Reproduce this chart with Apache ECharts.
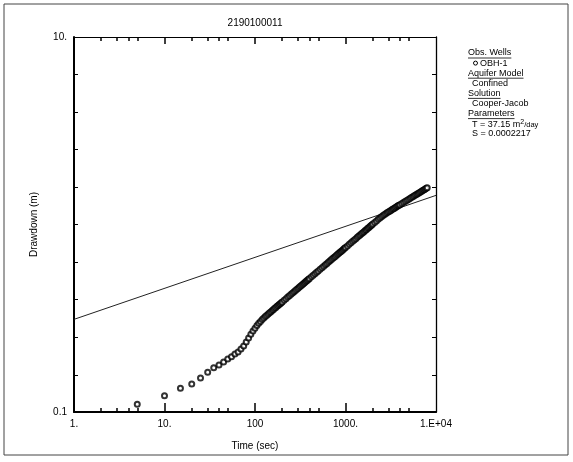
<!DOCTYPE html>
<html>
<head>
<meta charset="utf-8">
<script src="https://cdn.jsdelivr.net/npm/echarts@6/dist/echarts.min.js"></script>
<style>
  html, body { margin: 0; padding: 0; background: #fff; }
  #chart { width: 573px; height: 462px; }
</style>
</head>
<body>
<div id="chart"></div>
<script>
// observed data, well OBH-1 (time in s, drawdown in m)
const timeSec = [5, 10, 15, 20, 25, 30, 35, 40, 45, 50, 55, 60, 65, 70, 75, 80, 85, 90, 95, 100,
  105, 110, 115, 120, 125, 130, 135, 140, 145, 150, 155, 160, 165, 170, 175, 180, 185, 190, 195, 200,
  210, 220, 230, 240, 250, 260, 270, 280, 290, 300, 310, 320, 330, 340, 350, 360, 370, 380, 390, 400,
  420, 440, 460, 480, 500, 525, 550, 575, 600, 625, 650, 675, 700, 725, 750, 775, 800, 825, 850, 875,
  900, 925, 950, 975, 1000, 1050, 1100, 1150, 1200, 1250, 1300, 1350, 1400, 1450, 1500, 1550, 1600, 1650, 1700, 1750,
  1800, 1850, 1900, 1950, 2000, 2100, 2200, 2300, 2400, 2500, 2600, 2700, 2800, 2900, 3000, 3100, 3200, 3300, 3400, 3500,
  3600, 3700, 3800, 3900, 4000, 4200, 4400, 4600, 4800, 5000, 5200, 5400, 5600, 5800, 6000, 6200, 6400, 6600, 6800, 7000,
  7200, 7400, 7600, 7800, 8000];
const drawdown = [0.110, 0.122, 0.134, 0.141, 0.152, 0.163, 0.172, 0.178, 0.185, 0.192, 0.197, 0.204, 0.209, 0.217, 0.225, 0.236, 0.248, 0.260, 0.270, 0.280,
  0.289, 0.297, 0.304, 0.311, 0.317, 0.323, 0.328, 0.333, 0.338, 0.343, 0.348, 0.352, 0.357, 0.361, 0.366, 0.370, 0.374, 0.378, 0.382, 0.386,
  0.394, 0.402, 0.410, 0.417, 0.424, 0.431, 0.438, 0.444, 0.451, 0.457, 0.464, 0.470, 0.476, 0.482, 0.488, 0.493, 0.499, 0.505, 0.510, 0.515,
  0.526, 0.536, 0.546, 0.556, 0.565, 0.577, 0.588, 0.599, 0.610, 0.620, 0.630, 0.640, 0.650, 0.660, 0.669, 0.678, 0.687, 0.696, 0.705, 0.713,
  0.721, 0.730, 0.738, 0.746, 0.754, 0.769, 0.784, 0.799, 0.813, 0.827, 0.840, 0.854, 0.867, 0.879, 0.892, 0.904, 0.916, 0.928, 0.939, 0.951,
  0.962, 0.973, 0.984, 0.994, 1.005, 1.025, 1.045, 1.065, 1.084, 1.101, 1.118, 1.132, 1.146, 1.159, 1.171, 1.182, 1.193, 1.205, 1.215, 1.226,
  1.236, 1.247, 1.257, 1.266, 1.276, 1.295, 1.313, 1.331, 1.348, 1.364, 1.380, 1.396, 1.411, 1.426, 1.441, 1.455, 1.469, 1.483, 1.496, 1.509,
  1.522, 1.534, 1.547, 1.559, 1.571];

// Cooper-Jacob straight line
const fitTime = [1, 10000];
const fitDrawdown = [0.312, 1.43];

// ticks and labels
const xLabelValues = [1, 10, 100, 1000, 10000];
const xLabelTexts = ["1.", "10.", "100", "1000.", "1.E+04"];
const xMajorTicks = [10, 100, 1000];
const xMinorTicks = [2, 3, 4, 5, 20, 30, 40, 50, 200, 300, 400, 500, 2000, 3000, 4000, 5000];
const yLabelValues = [0.1, 10];
const yLabelTexts = ["0.1", "10."];
const yTicks = [0.158, 0.251, 0.398, 0.631, 1, 1.585, 2.512, 3.981, 6.31];

const legendLines = [
  { text: "Obs. Wells", head: true },
  { text: "OBH-1", marker: true },
  { text: "Aquifer Model", head: true },
  { text: "Confined" },
  { text: "Solution", head: true },
  { text: "Cooper-Jacob" },
  { text: "Parameters", head: true },
  { text: "{a|T = 37.15 m}{sup|2}{b|/day}", rich: true },
  { text: "S = 0.0002217" }
];

const FONT = "Liberation Sans, Arial, sans-serif";
const chart = echarts.init(document.getElementById("chart"));

function fmt(values, texts) {
  return v => {
    for (let i = 0; i < values.length; i++) {
      if (Math.abs(v - values[i]) / values[i] < 1e-6) return texts[i];
    }
    return "";
  };
}

function xAx(pos, ticks, len, showLine, labels) {
  return {
    type: "log", logBase: 10, min: 1, max: 10000, position: pos,
    axisLine: { show: showLine, onZero: false, lineStyle: { color: "#000", width: pos === "bottom" ? 2 : 1 } },
    axisTick: { show: true, inside: true, length: len, customValues: ticks, lineStyle: { color: "#000", width: 1.5 } },
    axisLabel: labels ? {
      show: true, customValues: xLabelValues, formatter: fmt(xLabelValues, xLabelTexts),
      color: "#000", fontSize: 10, fontFamily: FONT, margin: 7
    } : { show: false },
    splitLine: { show: false },
    minorTick: { show: false },
    name: labels ? "Time (sec)" : "",
    nameLocation: "middle", nameGap: 29,
    nameTextStyle: { color: "#000", fontSize: 10, fontFamily: FONT }
  };
}

function yAx(pos, labels) {
  return {
    type: "log", logBase: 10, min: 0.1, max: 10, position: pos,
    axisLine: { show: true, onZero: false, lineStyle: { color: "#000", width: pos === "left" ? 2 : 1.3 } },
    axisTick: { show: true, inside: true, length: 4, customValues: yTicks, lineStyle: { color: "#000", width: 1 } },
    axisLabel: labels ? {
      show: true, customValues: yLabelValues, formatter: fmt(yLabelValues, yLabelTexts),
      color: "#000", fontSize: 10, fontFamily: FONT, margin: 7
    } : { show: false },
    splitLine: { show: false },
    name: labels ? "Drawdown (m)" : "",
    nameLocation: "middle", nameGap: 35, nameRotate: 90,
    nameTextStyle: { color: "#000", fontSize: 10, fontFamily: FONT }
  };
}

// legend block at the right, drawn as graphic text
const LEG_FS = 9;
const measure = document.createElement("canvas").getContext("2d");
measure.font = LEG_FS + "px Liberation Sans, Arial";
const legendX = 468, legendY0 = 53, legendStep = 10.1;
const legendGraphics = [];
legendLines.forEach((l, i) => {
  const y = legendY0 + i * legendStep;
  const x = l.head ? legendX : legendX + 4;
  if (l.marker) {
    legendGraphics.push({ type: "circle", shape: { cx: x + 3.5, cy: y, r: 2 }, style: { fill: "#fff", stroke: "#000", lineWidth: 1 } });
  }
  legendGraphics.push({
    type: "text", x: l.marker ? x + 8 : x, y: y,
    style: l.rich ? {
      text: l.text, fill: "#000", font: LEG_FS + "px " + FONT, verticalAlign: "middle",
      rich: {
        a: { fontSize: LEG_FS, fontFamily: FONT, verticalAlign: "bottom", lineHeight: 11 },
        sup: { fontSize: 7, fontFamily: FONT, verticalAlign: "top", lineHeight: 11 },
        b: { fontSize: 7.5, fontFamily: FONT, verticalAlign: "bottom", lineHeight: 11 }
      }
    } : { text: l.text, fill: "#000", font: LEG_FS + "px " + FONT, verticalAlign: "middle" }
  });
  if (l.head) {
    const w = measure.measureText(l.text).width;
    legendGraphics.push({ type: "line", shape: { x1: x, y1: y + 5, x2: x + w, y2: y + 5 }, style: { stroke: "#000", lineWidth: 0.8 } });
  }
});

const option = {
  animation: false,
  backgroundColor: "#fff",
  grid: { left: 74, right: 137, top: 37, bottom: 50, containLabel: false },
  xAxis: [
    xAx("bottom", xMajorTicks, 9, true, true),
    xAx("bottom", xMinorTicks, 4, false, false),
    xAx("top", xMajorTicks, 7, true, false),
    xAx("top", xMinorTicks, 4, false, false)
  ],
  yAxis: [yAx("left", true), yAx("right", false)],
  graphic: [
    { type: "rect", shape: { x: 4, y: 4, width: 564, height: 451 }, style: { fill: "none", stroke: "#444", lineWidth: 1 } },
    { type: "text", x: 255, y: 23, style: { text: "2190100011", fill: "#000", font: "10px " + FONT, align: "center", verticalAlign: "middle" } }
  ].concat(legendGraphics),
  series: [
    {
      name: "Cooper-Jacob", type: "line", xAxisIndex: 0, yAxisIndex: 0,
      data: fitTime.map((t, i) => [t, fitDrawdown[i]]),
      showSymbol: false, lineStyle: { color: "#222", width: 1 }, z: 2
    },
    {
      name: "OBH-1", type: "scatter", xAxisIndex: 0, yAxisIndex: 0,
      data: timeSec.map((t, i) => [t, drawdown[i]]),
      symbol: "emptyCircle", symbolSize: 5,
      itemStyle: { color: "#000", borderWidth: 1.5 }, z: 3
    }
  ]
};

chart.setOption(option);
window.addEventListener("resize", () => chart.resize());
</script>
</body>
</html>
